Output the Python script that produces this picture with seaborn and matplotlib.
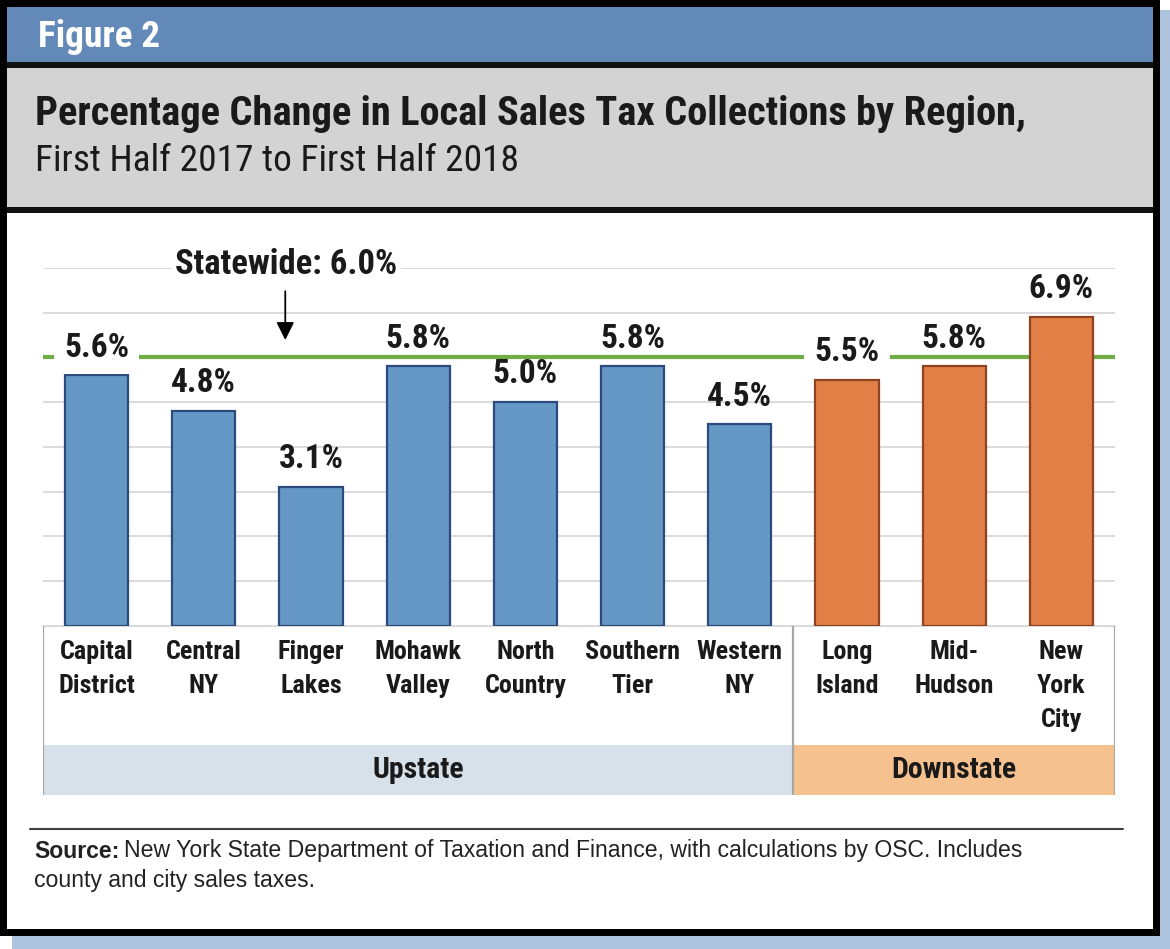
import pandas as pd
import matplotlib.pyplot as plt
import seaborn as sns
from matplotlib.patches import Rectangle
from matplotlib import font_manager

# data
regions = ['Capital\nDistrict', 'Central\nNY', 'Finger\nLakes', 'Mohawk\nValley', 'North\nCountry',
           'Southern\nTier', 'Western\nNY', 'Long\nIsland', 'Mid-\nHudson', 'New\nYork\nCity']
pct_change = [5.6, 4.8, 3.1, 5.8, 5.0, 5.8, 4.5, 5.5, 5.8, 6.9]
area = ['Upstate'] * 7 + ['Downstate'] * 3
statewide = 6.0

bar_colors = {'Upstate': '#6598c5', 'Downstate': '#e27f47'}
edge_colors = {'Upstate': '#2c4b7c', 'Downstate': '#8e4220'}
band_colors = {'Upstate': '#d7e1e9', 'Downstate': '#f5c28f'}

W, H = 1170, 949
sns.set_style('white')

# pick a condensed sans font, the original uses a Helvetica Condensed look
installed = {f.name for f in font_manager.fontManager.ttflist}
narrow = 'DejaVu Sans'
for cand in ['Liberation Sans Narrow', 'Arial Narrow', 'Roboto Condensed', 'Archivo Narrow', 'PT Sans Narrow']:
    if cand in installed:
        narrow = cand
        break
plt.rcParams['font.family'] = [narrow, 'DejaVu Sans']
if narrow == 'DejaVu Sans':
    plt.rcParams['font.stretch'] = 'condensed'
regular = ['Liberation Sans', 'DejaVu Sans']

fig = plt.figure(figsize=(W / 100, H / 100), dpi=100)
r = fig.canvas.get_renderer()


def box(x0, y0, x1, y1, color):
    fig.patches.append(Rectangle((x0 / W, 1 - y1 / H), (x1 - x0) / W, (y1 - y0) / H,
                                 transform=fig.transFigure, facecolor=color,
                                 edgecolor='none', zorder=-5))


def fit_size(text, target_px, base=20, **kw):
    # font size that makes `text` about target_px wide
    t = fig.text(0, 0, text, fontsize=base, **kw)
    w = t.get_window_extent(r).width
    t.remove()
    return base * target_px / w


# frame, header and title box
box(12, 10, 1170, 949, '#aec4de')
box(0, 0, 1160, 936, 'black')
box(7, 7, 1153, 929, 'white')
box(7, 7, 1153, 62, '#6389b8')
box(7, 62, 1153, 68, '#111111')
box(7, 68, 1153, 207, '#d3d3d3')
box(7, 207, 1153, 213, '#111111')

title = 'Percentage Change in Local Sales Tax Collections by Region,'
subtitle = 'First Half 2017 to First Half 2018'
fig.text(38 / W, 1 - 37 / H, 'Figure 2', color='white', fontweight='bold', va='center',
         fontsize=fit_size('Figure 2', 122, fontweight='bold'))
fig.text(35 / W, 1 - 114 / H, title, fontweight='bold', color='#1a1a1a', va='center',
         fontsize=fit_size(title, 990, fontweight='bold'))
fig.text(35 / W, 1 - 161 / H, subtitle, color='#1a1a1a', va='center',
         fontsize=fit_size(subtitle, 483))

lab_size = fit_size('Southern', 95, fontweight='bold')
val_size = fit_size('5.6%', 65, fontweight='bold')
sw_text = f'Statewide: {statewide:.1f}%'
sw_size = fit_size(sw_text, 221, fontweight='bold')
band_size = fit_size('Downstate', 125, fontweight='bold')

# main chart
df = pd.DataFrame({'region': regions, 'pct': pct_change, 'area': area})
ax = fig.add_axes([43 / W, 1 - 625.7 / H, 1072 / W, 357.7 / H])
ax.set_facecolor('none')
sns.barplot(data=df, x='region', y='pct', hue='area', palette=bar_colors, dodge=False,
            width=0.59, saturation=1, legend=False, ax=ax, zorder=3)

ax.axhline(statewide, color='#70ad47', lw=3, zorder=2)
ax.set_ylim(0, 8)
ax.set_xlim(-0.5, len(regions) - 0.5)

value_labels = []
for cont, lvl in zip(ax.containers, ['Upstate', 'Downstate']):
    for b in cont:
        b.set_edgecolor(edge_colors[lvl])
        b.set_linewidth(1.6)
    value_labels += ax.bar_label(cont, fmt='%.1f%%', padding=8.5, fontsize=val_size, fontweight='bold',
                                 color='#1a1a1a', zorder=5)

ax.set_yticks(range(0, 9))
ax.set_yticklabels([])
ax.yaxis.grid(True, color='#d9d9d9', lw=1.3)
ax.set_axisbelow(True)
for s in ['top', 'right', 'left']:
    ax.spines[s].set_visible(False)
ax.spines['bottom'].set_color('#d9d9d9')
ax.set_xlabel('')
ax.set_ylabel('')
ax.tick_params(axis='both', length=0)
ax.tick_params(axis='x', pad=10, labelsize=lab_size, labelcolor='#1a1a1a')
for t in ax.get_xticklabels():
    t.set_fontweight('bold')
    t.set_linespacing(1.55)

# white backing only for labels that the statewide line runs through
line_y = ax.transData.transform((0, statewide))[1]
for t in value_labels:
    ext = t.get_window_extent(r)
    if ext.y0 <= line_y <= ext.y1:
        t.set_bbox(dict(boxstyle='square,pad=0.3', fc='white', ec='none'))

ax.text(1.77, 8.07, sw_text, fontsize=sw_size, fontweight='bold', color='#1a1a1a',
        ha='center', va='center', bbox=dict(boxstyle='square,pad=0.1', fc='white', ec='none'), zorder=5)
ax.annotate('', xy=(1.76, 6.39), xytext=(1.76, 7.48),
            arrowprops=dict(arrowstyle='-|>', color='black', lw=1.3, mutation_scale=27,
                            shrinkA=0, shrinkB=0), zorder=5)

# region bands below the labels
ax2 = fig.add_axes([43 / W, 1 - 795 / H, 1072 / W, (795 - 625.7) / H])
ax2.set_xlim(-0.5, len(regions) - 0.5)
ax2.set_ylim(0, 1)
ax2.axis('off')
band_top = (795 - 745) / (795 - 625.7)
bounds = [-0.5]
for name in ['Upstate', 'Downstate']:
    idx = [i for i, a in enumerate(area) if a == name]
    lo, hi = min(idx) - 0.5, max(idx) + 0.5
    ax2.axvspan(lo, hi, ymax=band_top, color=band_colors[name], lw=0)
    ax2.text((lo + hi) / 2, band_top / 2, name, ha='center', va='center', fontsize=band_size,
             fontweight='bold', color='#1a1a1a')
    bounds.append(hi)
ax2.vlines(bounds, 0, 1, color='#a6a6a6', lw=1.6)

# source
fig.add_artist(plt.Line2D([30 / W, 1123 / W], [1 - 829 / H, 1 - 829 / H], color='#404040', lw=1.5))
line1 = 'New York State Department of Taxation and Finance, with calculations by OSC. Includes'
src_size = fit_size('Source: ' + line1, 985, family=regular)
src = fig.text(34 / W, 1 - 851 / H, 'Source:', fontsize=src_size, fontweight='bold', color='#222222',
               va='center', family=regular)
x1 = src.get_window_extent(r).x1
fig.text((x1 + 5) / W, 1 - 851 / H, line1, fontsize=src_size, color='#222222', va='center', family=regular)
fig.text(34 / W, 1 - 881 / H, 'county and city sales taxes.', fontsize=src_size, color='#222222',
         va='center', family=regular)

fig.savefig('out.png', dpi=100)
